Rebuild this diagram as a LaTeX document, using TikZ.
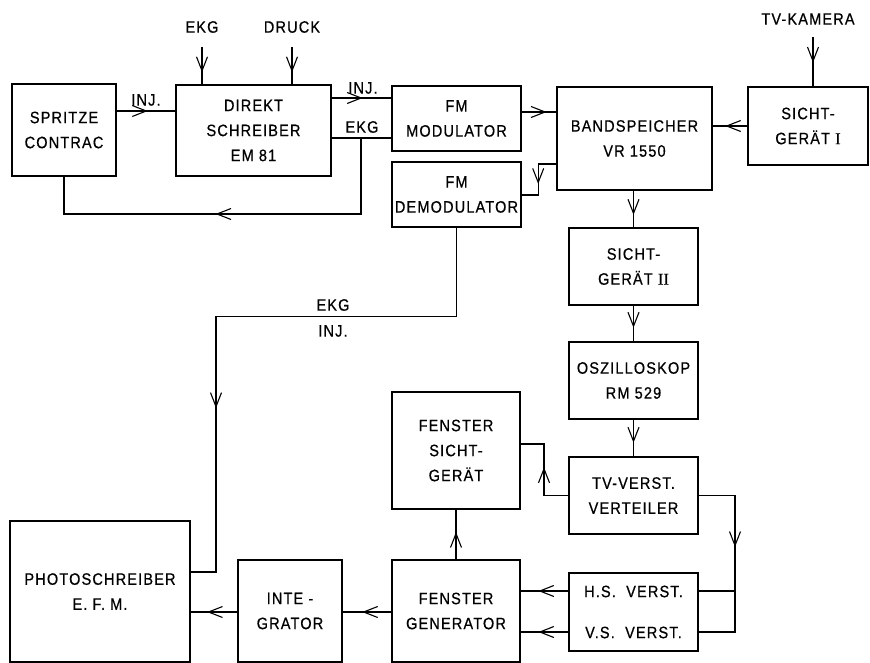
\documentclass[tikz,border=0pt]{standalone}
\usepackage{fontspec}
\setmainfont[LetterSpace=7,FakeStretch=0.88,FakeBold=0.6]{Liberation Sans}
\newfontfamily\romnum[FakeBold=0.6]{Liberation Serif}
\usetikzlibrary{arrows.meta,decorations.markings}
\tikzset{
  blk/.style={draw, line width=1.6pt, align=center, inner sep=0pt},
  conn/.style={line width=1.1pt},
  arr/.style={postaction={decorate}, decoration={markings,
      mark=at position #1 with {\arrow[line width=1.1pt]{Straight Barb[length=14pt,width=11pt]}}}},
  lbl/.style={inner sep=0pt}
}
\begin{document}
\begin{tikzpicture}[x=1pt,y=-1pt,font=\fontsize{16.5}{25}\selectfont]
\useasboundingbox (0,0) rectangle (870,663);
% boxes
\node[blk, minimum width=104, minimum height=92] (spr) at (64,130) {SPRITZE\\CONTRAC};
\node[blk, minimum width=155, minimum height=91] (dir) at (253.5,130.5) {DIREKT\\SCHREIBER\\EM 81};
\node[blk, minimum width=129, minimum height=65] (fmm) at (456.5,118.5) {FM\\MODULATOR};
\node[blk, minimum width=129, minimum height=65] (fmd) at (456.5,194.5) {FM\\DEMODULATOR};
\node[blk, minimum width=155, minimum height=103] (band) at (634.5,138.5) {BANDSPEICHER\\VR 1550};
\node[blk, minimum width=120, minimum height=78] (s1) at (808,126) {SICHT-\\GERÄT {\romnum I}};
\node[blk, minimum width=129, minimum height=77] (s2) at (633.5,266.5) {SICHT-\\GERÄT {\romnum II}};
\node[blk, minimum width=129, minimum height=77] (osz) at (633.5,380.5) {OSZILLOSKOP\\RM 529};
\node[blk, minimum width=129, minimum height=77] (tvv) at (633.5,495.5) {TV-VERST.\\VERTEILER};
\node[blk, minimum width=128, minimum height=117] (fsg) at (456,450.5) {FENSTER\\SICHT-\\GERÄT};
\node[blk, minimum width=129, minimum height=78] (hsv) at (633.5,612) {H.S.~~VERST.\\[16pt]V.S.~~VERST.};
\node[blk, minimum width=128, minimum height=102] (fgen) at (456,611) {FENSTER\\GENERATOR};
\node[blk, minimum width=104, minimum height=102] (intg) at (290,611) {INTE -\\GRATOR};
\node[blk, minimum width=180, minimum height=141] (photo) at (100,591.5) {PHOTOSCHREIBER\\E. F. M.};
% labels
\node[lbl] (lekg) at (202,27) {EKG};
\node[lbl] (ldr) at (292,27) {DRUCK};
\node[lbl] (ltv) at (808,19) {TV-KAMERA};
\node[lbl] (linja) at (146,100) {INJ.};
\node[lbl] (linjb) at (363,88) {INJ.};
\node[lbl] (lekgb) at (362,127) {EKG};
\node[lbl] (lekgc) at (333,305) {EKG};
\node[lbl] (linjc) at (333,331) {INJ.};
% free ends
\coordinate (e0) at (202,47);
\coordinate (d0) at (292,47);
\coordinate (t0) at (813,37);
\coordinate (br) at (361,138);
% connectors
\draw[conn,arr=0.53] (spr.east |- 0,111) -- (dir.west |- 0,111);
\draw[conn,arr=0.68] (e0) -- (e0 |- dir.north);
\draw[conn,arr=0.68] (d0) -- (d0 |- dir.north);
\draw[conn,arr=0.52] (dir.east |- 0,98) -- (fmm.west |- 0,98);
\draw[conn] (dir.east |- 0,138) -- (fmm.west |- 0,138);
\draw[conn,arr=0.54] (br) -- ++(0,76) -| (spr.south);
\draw[conn,arr=0.72] (fmm.east |- 0,112) -- (band.west |- 0,112);
\draw[conn,arr=0.58] (band.west |- 0,164) -- ++(-18,0) |- (fmd.east |- 0,195);
\draw[conn,arr=0.64] (s1.west) -- (band.east |- s1.west);
\draw[conn,arr=0.52] (t0) -- (t0 |- s1.north);
\draw[conn,arr=0.66] (s2.north |- band.south) -- (s2.north);
\draw[conn,arr=0.62] (s2.south) -- (osz.north);
\draw[conn,arr=0.63] (osz.south) -- (tvv.north);
\draw[conn,arr=0.53] (tvv.west) -- (544,495.5) |- (fsg.east |- 0,444);
\draw[conn,arr=0.42] (tvv.east) -- (735,495.5) |- (hsv.east |- 0,632);
\draw[conn] (735,591) -- (hsv.east |- 0,591);
\draw[conn,arr=0.63] (hsv.west |- 0,591) -- (fgen.east |- 0,591);
\draw[conn,arr=0.63] (hsv.west |- 0,632) -- (fgen.east |- 0,632);
\draw[conn,arr=0.55] (fgen.north) -- (fsg.south);
\draw[conn,arr=0.6] (fgen.west |- 0,612) -- (intg.east |- 0,612);
\draw[conn,arr=0.65] (intg.west |- 0,612) -- (photo.east |- 0,612);
\draw[conn,arr=0.69] (fmd.south) -- ++(0,89) -| (216,572) -- (photo.east |- 0,572);
\end{tikzpicture}
\end{document}
